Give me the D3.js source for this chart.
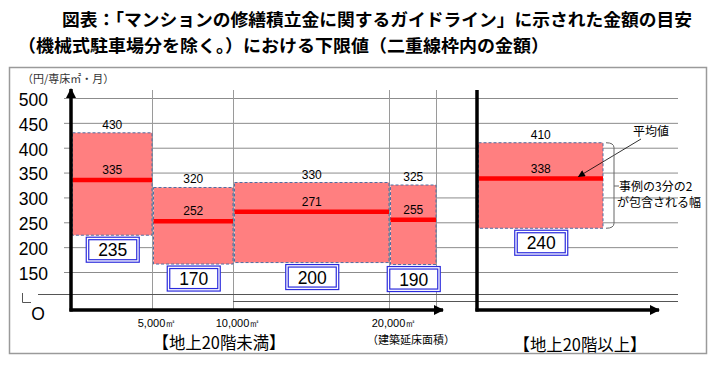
<!DOCTYPE html>
<html>
<head>
<meta charset="utf-8">
<script src="https://cdn.jsdelivr.net/npm/d3@7"></script>
<style>
  body { margin: 0; background: #fff; }
  svg { display: block; }
</style>
</head>
<body>
<div id="chart"></div>
<script>
// --- data ---
const titleLines = [
  '図表：「マンションの修繕積立金に関するガイドライン」に示された金額の目安',
  '（機械式駐車場分を除く。）における下限値（二重線枠内の金額）'
];
const yTicks = [150, 200, 250, 300, 350, 400, 450, 500];
const areaBreaks = [0, 5000, 10000, 20000, 23000];
const areaTickValues = [5000, 10000, 20000];
const areaTickLabels = ['5,000㎡', '10,000㎡', '20,000㎡'];
const bandTop = [430, 320, 330, 325, 410];
const bandMean = [335, 252, 271, 255, 338];
const bandBottom = [224, 166, 169, 165, 238];   // lower edge as drawn
const lowerLimit = [235, 170, 200, 190, 240];   // values in the double boxes
const panelNames = ['【地上20階未満】', '【地上20階以上】'];
const tallCategory = ['20階以上'];

const W = 722, H = 366;
const FONT = '"Noto Sans CJK JP", "Noto Sans", sans-serif';
const NUMFONT = '"Liberation Sans", Arial, sans-serif';

const svg = d3.select('#chart').append('svg')
  .attr('width', W)
  .attr('height', H);

// arrowheads
const defs = svg.append('defs');
defs.append('marker')
  .attr('id', 'axisArrow')
  .attr('viewBox', '0 0 10 10')
  .attr('refX', 9).attr('refY', 5)
  .attr('markerUnits', 'userSpaceOnUse')
  .attr('markerWidth', 11).attr('markerHeight', 10)
  .attr('orient', 'auto')
  .append('path').attr('d', 'M0,0 L10,5 L0,10 Z').attr('fill', '#000');
defs.append('marker')
  .attr('id', 'noteArrow')
  .attr('viewBox', '0 0 10 10')
  .attr('refX', 9).attr('refY', 5)
  .attr('markerUnits', 'userSpaceOnUse')
  .attr('markerWidth', 8).attr('markerHeight', 7)
  .attr('orient', 'auto')
  .append('path').attr('d', 'M0,0 L10,5 L0,10 Z').attr('fill', '#000');

// title
svg.selectAll('.title')
  .data(titleLines)
  .enter().append('text')
  .attr('class', 'title')
  .attr('x', (d, i) => i === 0 ? 62 : 18)
  .attr('y', (d, i) => 26 + i * 26)
  .attr('textLength', (d, i) => i === 0 ? 630 : 531)
  .attr('lengthAdjust', 'spacingAndGlyphs')
  .attr('font-family', FONT)
  .attr('font-weight', 'bold')
  .attr('font-size', 17.5)
  .text(d => d);

// frame
svg.append('rect')
  .attr('x', 9.5).attr('y', 67.5)
  .attr('width', 697).attr('height', 286)
  .attr('fill', 'none')
  .attr('stroke', '#9a9a9a')
  .attr('stroke-width', 1.5);

// scales
const y = d3.scaleLinear().domain([150, 500]).range([272, 98]);
const xL = d3.scaleLinear().domain(areaBreaks).range([71, 152, 233, 389, 436]);
const xR = d3.scaleBand().domain(tallCategory).range([477, 603]);
const gridRight = 678;
const axisY = 310;

// horizontal grid
svg.append('g').selectAll('line')
  .data(yTicks)
  .enter().append('line')
  .attr('x1', 64).attr('x2', gridRight)
  .attr('y1', d => y(d) + 0.5).attr('y2', d => y(d) + 0.5)
  .attr('stroke', '#8c8c8c').attr('stroke-width', 1);

// vertical grid (area boundaries)
svg.append('g').selectAll('line')
  .data(areaTickValues.concat([areaBreaks[areaBreaks.length - 1]]))
  .enter().append('line')
  .attr('x1', d => Math.round(xL(d)) + 0.5).attr('x2', d => Math.round(xL(d)) + 0.5)
  .attr('y1', 90).attr('y2', axisY)
  .attr('stroke', '#9a9a9a').attr('stroke-width', 1);

// y axis labels
const yAxis = svg.append('g')
  .attr('transform', 'translate(71,0)')
  .call(d3.axisLeft(y).tickValues(yTicks).tickSize(0).tickPadding(23));
yAxis.select('.domain').remove();
yAxis.selectAll('text')
  .attr('font-family', NUMFONT)
  .attr('font-size', 17.5)
  .attr('dy', '0.42em')
  .attr('fill', '#000');

svg.append('text')
  .attr('x', 22).attr('y', 83)
  .attr('font-family', FONT)
  .attr('font-size', 11)
  .attr('fill', '#333')
  .text('（円/専床㎡・月）');

// axis break lines
svg.append('line')
  .attr('x1', 38).attr('x2', gridRight)
  .attr('y1', 294.5).attr('y2', 294.5)
  .attr('stroke', '#555').attr('stroke-width', 1);
svg.append('line')
  .attr('x1', 233).attr('x2', gridRight)
  .attr('y1', 301.5).attr('y2', 301.5)
  .attr('stroke', '#555').attr('stroke-width', 1);
svg.append('path')
  .attr('d', 'M22.5,293 L22.5,302.5 L31,302.5')
  .attr('fill', 'none')
  .attr('stroke', '#555').attr('stroke-width', 1);
svg.append('text')
  .attr('x', 38).attr('y', 320)
  .attr('text-anchor', 'middle')
  .attr('font-family', NUMFONT)
  .attr('font-size', 17.5)
  .text('O');

// bands
const bands = bandTop.map((t, i) => {
  const left = i < 4 ? xL(areaBreaks[i]) + 1.5 : xR(tallCategory[0]) + 1.5;
  const right = i < 4 ? xL(areaBreaks[i + 1]) : xR(tallCategory[0]) + xR.bandwidth();
  return { top: t, mean: bandMean[i], bottom: bandBottom[i], low: lowerLimit[i], left, right };
});

const band = svg.append('g').selectAll('g')
  .data(bands)
  .enter().append('g');

band.append('rect')
  .attr('x', d => d.left)
  .attr('y', d => y(d.top))
  .attr('width', d => d.right - d.left)
  .attr('height', d => y(d.bottom) - y(d.top))
  .attr('fill', '#ff7f80')
  .attr('stroke', '#4f6fa3')
  .attr('stroke-width', 1)
  .attr('stroke-dasharray', '3,2');

band.append('line')
  .attr('x1', d => d.left).attr('x2', d => d.right)
  .attr('y1', d => y(d.mean)).attr('y2', d => y(d.mean))
  .attr('stroke', '#ff0000')
  .attr('stroke-width', 4.5);

band.append('text')
  .attr('x', d => (d.left + d.right) / 2)
  .attr('y', d => y(d.top) - 4)
  .attr('text-anchor', 'middle')
  .attr('font-family', NUMFONT)
  .attr('font-size', 12)
  .text(d => d.top);

band.append('text')
  .attr('x', d => (d.left + d.right) / 2)
  .attr('y', d => y(d.mean) - 6)
  .attr('text-anchor', 'middle')
  .attr('font-family', NUMFONT)
  .attr('font-size', 12)
  .text(d => d.mean);

// lower limit double boxes
const boxW = 53, boxH = 25;
const box = band.append('g')
  .attr('transform', d => 'translate(' + ((d.left + d.right) / 2 - boxW / 2) + ',' + (y(d.bottom) + 1.5) + ')');
box.append('rect')
  .attr('x', 0.5).attr('y', 0.5)
  .attr('width', boxW).attr('height', boxH)
  .attr('fill', '#fff')
  .attr('stroke', '#2b2bdc').attr('stroke-width', 1.2);
box.append('rect')
  .attr('x', 3).attr('y', 3)
  .attr('width', boxW - 5).attr('height', boxH - 5)
  .attr('fill', 'none')
  .attr('stroke', '#2b2bdc').attr('stroke-width', 1.2);
box.append('text')
  .attr('x', boxW / 2 + 0.5).attr('y', boxH / 2 + 7)
  .attr('text-anchor', 'middle')
  .attr('font-family', NUMFONT)
  .attr('font-size', 17.5)
  .text(d => d.low);

// axes (thick black with arrows)
svg.append('line')
  .attr('x1', xL(0)).attr('x2', xL(0))
  .attr('y1', axisY + 1.5).attr('y2', 89)
  .attr('stroke', '#000').attr('stroke-width', 3.5)
  .attr('marker-end', 'url(#axisArrow)');
svg.append('line')
  .attr('x1', xL(0) - 1.5).attr('x2', 443)
  .attr('y1', axisY).attr('y2', axisY)
  .attr('stroke', '#000').attr('stroke-width', 3.5)
  .attr('marker-end', 'url(#axisArrow)');
svg.append('line')
  .attr('x1', xR(tallCategory[0])).attr('x2', xR(tallCategory[0]))
  .attr('y1', axisY + 1.5).attr('y2', 90)
  .attr('stroke', '#000').attr('stroke-width', 3.5);
svg.append('line')
  .attr('x1', xR(tallCategory[0]) - 1.5).attr('x2', 659)
  .attr('y1', axisY).attr('y2', axisY)
  .attr('stroke', '#000').attr('stroke-width', 3.5)
  .attr('marker-end', 'url(#axisArrow)');

// area tick labels
svg.append('g').selectAll('text')
  .data(areaTickValues)
  .enter().append('text')
  .attr('x', d => xL(d) + 5)
  .attr('y', 327)
  .attr('text-anchor', 'middle')
  .attr('font-family', NUMFONT)
  .attr('font-size', 11)
  .text((d, i) => areaTickLabels[i]);

svg.append('text')
  .attr('x', 411).attr('y', 344)
  .attr('text-anchor', 'middle')
  .attr('font-family', FONT)
  .attr('font-size', 11)
  .text('（建築延床面積）');

svg.append('g').selectAll('text')
  .data(panelNames)
  .enter().append('text')
  .attr('x', (d, i) => i === 0 ? 219 : 580)
  .attr('y', (d, i) => i === 0 ? 349 : 351)
  .attr('text-anchor', 'middle')
  .attr('textLength', 133)
  .attr('lengthAdjust', 'spacingAndGlyphs')
  .attr('font-family', FONT)
  .attr('font-size', 17)
  .text(d => d);

// annotation: mean and 2/3 range
const last = bands[4];
svg.append('text')
  .attr('x', 633).attr('y', 136)
  .attr('font-family', FONT)
  .attr('font-size', 12)
  .text('平均値');
svg.append('line')
  .attr('x1', 641).attr('y1', 139)
  .attr('x2', last.left + 100).attr('y2', y(last.mean) - 2)
  .attr('stroke', '#000').attr('stroke-width', 0.8)
  .attr('marker-end', 'url(#noteArrow)');

const bx = last.right + 3;
svg.append('path')
  .attr('d', 'M' + bx + ',' + y(last.top) + ' Q' + (bx + 8) + ',' + y(last.top) + ' ' + (bx + 8) + ',' + (y(last.top) + 5) +
        ' L' + (bx + 8) + ',' + (y(last.bottom) - 5) +
        ' Q' + (bx + 8) + ',' + y(last.bottom) + ' ' + bx + ',' + y(last.bottom) +
        ' M' + (bx + 8) + ',186 L' + (bx + 13) + ',186')
  .attr('fill', 'none')
  .attr('stroke', '#666').attr('stroke-width', 1);
svg.append('text')
  .attr('x', bx + 13).attr('y', 191)
  .attr('font-family', FONT)
  .attr('font-size', 12)
  .text('事例の3分の2');
svg.append('text')
  .attr('x', bx + 11).attr('y', 207)
  .attr('font-family', FONT)
  .attr('font-size', 12)
  .text('が包含される幅');
</script>
</body>
</html>
